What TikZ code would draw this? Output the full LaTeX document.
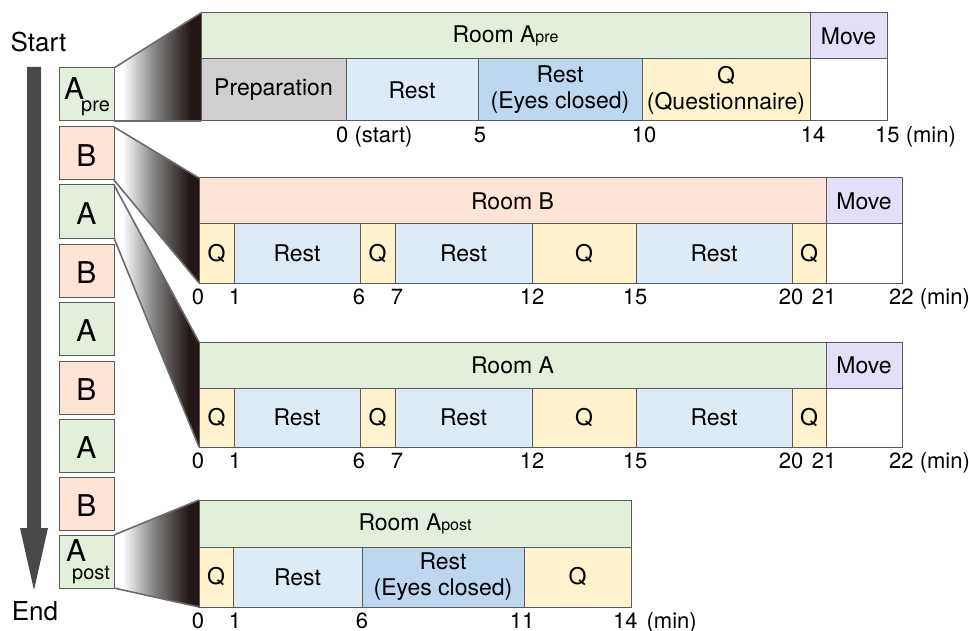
\documentclass[tikz,border=0pt]{standalone}
\usepackage{fontspec}
\setmainfont{TeX Gyre Heros}
\definecolor{cgreen}{HTML}{E2EFDA}
\definecolor{cpink}{HTML}{FCE4D6}
\definecolor{cmove}{HTML}{E4DFF7}
\definecolor{cprep}{HTML}{D0CECE}
\definecolor{crest}{HTML}{DDEBF7}
\definecolor{ceyes}{HTML}{BDD7EE}
\definecolor{cq}{HTML}{FFF2CC}
\definecolor{cline}{HTML}{5A5A5A}
\definecolor{cdark}{HTML}{231815}
\definecolor{carrow}{HTML}{4B4849}
\pgfdeclarehorizontalshading{conn}{100bp}{color(0bp)=(white); color(30bp)=(white); color(49bp)=(black!50); color(69bp)=(cdark); color(100bp)=(cdark)}
\pgfdeclarelayer{bg}
\pgfsetlayers{bg,main}
\newcommand{\mycell}[7]{%
  \node[cell, fill=#2, minimum width={(#4-#3)*1pt}, minimum height={(#6-#5)*1pt}, anchor=north west] (#1) at (#3,#5) {#7};}
\tikzset{
  cell/.style={draw=cline, line width=1pt, inner sep=0pt, outer sep=0pt, align=center, font=\fontsize{23}{26}\selectfont},
  lbox/.style={draw=cline, line width=1pt, inner sep=0pt, outer sep=0pt, minimum width=55pt, minimum height=53pt, anchor=north west},
  big/.style={inner sep=0pt, font=\fontsize{30}{30}\selectfont},
  subt/.style={inner sep=0pt, font=\fontsize{20}{20}\selectfont, anchor=base west},
  lbl/.style={inner sep=0pt, font=\fontsize{22}{22}\selectfont, anchor=base},
  conline/.style={draw=cline!90, line width=1.6pt},
}
\begin{document}
\begin{tikzpicture}[x=1pt,y=-1pt]
\useasboundingbox (0,0) rectangle (969,631);
% Start / End and time arrow
\node[inner sep=0pt, font=\fontsize{26}{26}\selectfont, anchor=base] (start) at (38.5,52) {Start};
\node[inner sep=0pt, font=\fontsize{26}{26}\selectfont, anchor=base] (end) at (35,620) {End};
\coordinate (arrtop) at (34,67);
\coordinate (arrtip) at (34,590);
\fill[carrow] ([xshift=-7pt]arrtop) -- ([xshift=7pt]arrtop) -- (41,528) -- (48,528) -- (arrtip) -- (20,528) -- (27,528) -- cycle;
% left sequence boxes
\node[lbox, fill=cgreen] (b1) at (59,68) {};
\node[lbox, fill=cpink]  (b2) at (59,127) {};
\node[lbox, fill=cgreen] (b3) at (59,185) {};
\node[lbox, fill=cpink]  (b4) at (59,244) {};
\node[lbox, fill=cgreen] (b5) at (59,302) {};
\node[lbox, fill=cpink]  (b6) at (59,361) {};
\node[lbox, fill=cgreen] (b7) at (59,419) {};
\node[lbox, fill=cpink]  (b8) at (59,477) {};
\node[lbox, fill=cgreen] (b9) at (59,535) {};
\node[big, anchor=base west] (b1a) at (64,100) {A};
\node[subt] (b1s) at (81,111.5) {pre};
\foreach \n/\t in {b2/B,b3/A,b4/B,b5/A,b6/B,b7/A,b8/B}{
  \node[big] (\n t) at ([yshift=-2pt]\n.center) {\t};
}
\node[big, anchor=base west] (b9a) at (66,561) {A};
\node[subt] (b9s) at (72,579) {post};
% Panel 1: Room A pre
\mycell{p1room}{cgreen}{201}{810}{13}{59}{Room A{\fontsize{16}{16}\selectfont pre}}
\mycell{p1move}{cmove}{810}{887}{13}{59}{Move}
\mycell{p1prep}{cprep}{201}{346}{59}{121}{Preparation}
\mycell{p1rest}{crest}{346}{478}{59}{121}{Rest}
\mycell{p1eyes}{ceyes}{478}{642}{59}{121}{Rest\\(Eyes closed)}
\mycell{p1q}{cq}{642}{810}{59}{121}{Q\\(Questionnaire)}
\mycell{p1w}{white}{810}{887}{59}{121}{}
\node[lbl, anchor=base west] (l1a) at (336,143) {0 (start)};
\node[lbl] (l1b) at (480,143) {5};
\node[lbl] (l1c) at (644,143) {10};
\node[lbl] (l1d) at (813,143) {14};
\node[lbl, anchor=base west] (l1e) at (875,143) {15 (min)};
% Panel 2: Room B
\mycell{p2room}{cpink}{199}{826}{178}{224}{Room B}
\mycell{p2move}{cmove}{826}{902}{178}{224}{Move}
\mycell{p2q1}{cq}{199}{234}{224}{283}{Q}
\mycell{p2r1}{crest}{234}{360}{224}{283}{Rest}
\mycell{p2q2}{cq}{360}{395}{224}{283}{Q}
\mycell{p2r2}{crest}{395}{532}{224}{283}{Rest}
\mycell{p2q3}{cq}{532}{636}{224}{283}{Q}
\mycell{p2r3}{crest}{636}{792}{224}{283}{Rest}
\mycell{p2q4}{cq}{792}{826}{224}{283}{Q}
\mycell{p2w}{white}{826}{902}{224}{283}{}
\foreach \x/\t [count=\i] in {198/0,235/1,359/6,397/7,532/12,635/15,791/20,824/21}{
  \node[lbl] (l2\i) at (\x,304) {\t};
}
\node[lbl, anchor=base west] (l2e) at (889,304) {22 (min)};
% Panel 3: Room A
\mycell{p3room}{cgreen}{199}{826}{342}{388}{Room A}
\mycell{p3move}{cmove}{826}{902}{342}{388}{Move}
\mycell{p3q1}{cq}{199}{234}{388}{447}{Q}
\mycell{p3r1}{crest}{234}{360}{388}{447}{Rest}
\mycell{p3q2}{cq}{360}{395}{388}{447}{Q}
\mycell{p3r2}{crest}{395}{532}{388}{447}{Rest}
\mycell{p3q3}{cq}{532}{636}{388}{447}{Q}
\mycell{p3r3}{crest}{636}{792}{388}{447}{Rest}
\mycell{p3q4}{cq}{792}{826}{388}{447}{Q}
\mycell{p3w}{white}{826}{902}{388}{447}{}
\foreach \x/\t [count=\i] in {198/0,235/1,359/6,397/7,532/12,635/15,791/20,824/21}{
  \node[lbl] (l3\i) at (\x,468) {\t};
}
\node[lbl, anchor=base west] (l3e) at (889,468) {22 (min)};
% Panel 4: Room A post
\mycell{p4room}{cgreen}{199}{631}{500}{547}{Room A{\fontsize{16}{16}\selectfont post}}
\mycell{p4q1}{cq}{199}{233}{547}{607}{Q}
\mycell{p4r1}{crest}{233}{362}{547}{607}{Rest}
\mycell{p4e}{ceyes}{362}{524}{547}{607}{Rest\\(Eyes closed)}
\mycell{p4q2}{cq}{524}{631}{547}{607}{Q}
\foreach \x/\t [count=\i] in {198/0,235/1,362/6,522/11}{
  \node[lbl] (l4\i) at (\x,628) {\t};
}
\node[lbl, anchor=base west] (l4e) at (613,628) {14\hspace{9pt}(min)};
% connectors (zoom trapezoids)
\begin{pgfonlayer}{bg}
\shade[shading=conn] (b1.north east) -- (p1room.north west) -- (p1prep.south west) -- (b1.south east) -- cycle;
\shade[shading=conn] (b2.north east) -- (p2room.north west) -- (p2q1.south west) -- (b2.south east) -- cycle;
\shade[shading=conn] (b3.north east) -- (p3room.north west) -- (p3q1.south west) -- (b3.south east) -- cycle;
\shade[shading=conn] (b9.north east) -- (p4room.north west) -- (p4q1.south west) -- (b9.south east) -- cycle;
\end{pgfonlayer}
\draw[conline] (b1.north east) -- (p1room.north west);
\draw[conline] (b1.south east) -- (p1prep.south west);
\draw[conline] (b2.north east) -- (p2room.north west);
\draw[conline] (b2.south east) -- (p2q1.south west);
\draw[conline] (b3.north east) -- (p3room.north west);
\draw[conline] (b3.south east) -- (p3q1.south west);
\draw[conline] (b9.north east) -- (p4room.north west);
\draw[conline] (b9.south east) -- (p4q1.south west);
\end{tikzpicture}
\end{document}
